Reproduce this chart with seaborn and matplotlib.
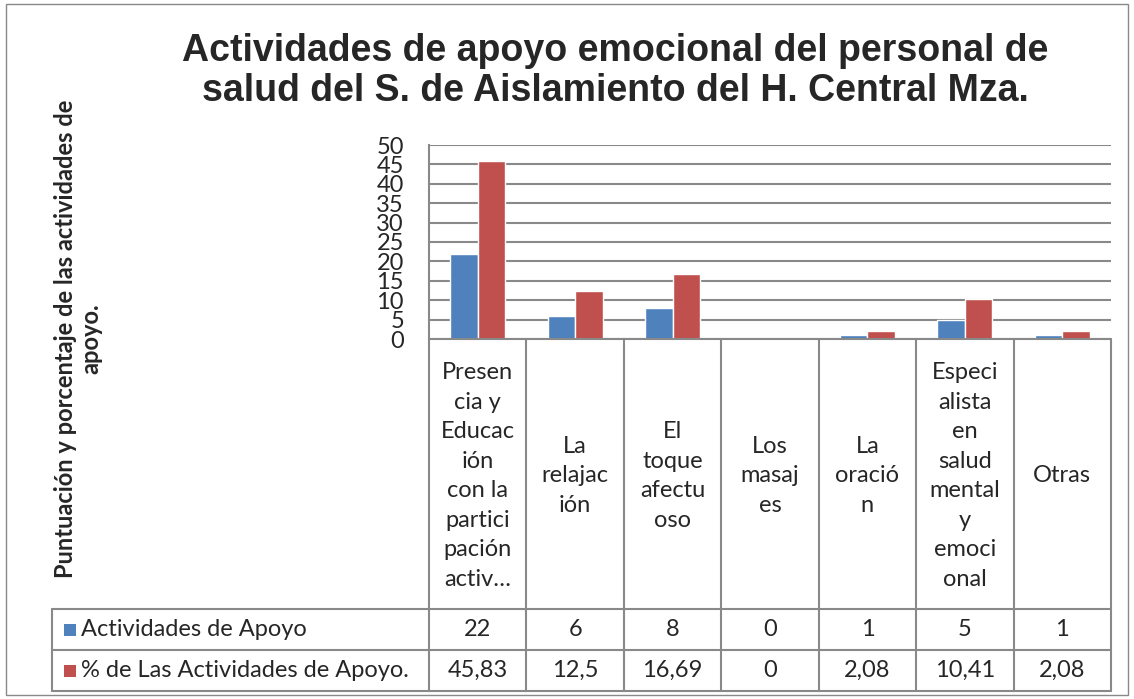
import numpy as np
import pandas as pd
import seaborn as sns
import matplotlib.pyplot as plt
from matplotlib.lines import Line2D
from matplotlib.patches import Rectangle
from matplotlib.transforms import blended_transform_factory

# datos
categorias = ["Presen\ncia y\nEducac\nión\ncon la\npartici\npación\nactiv…",
              "La\nrelajac\nión",
              "El\ntoque\nafectu\noso",
              "Los\nmasaj\nes",
              "La\noració\nn",
              "Especi\nalista\nen\nsalud\nmental\ny\nemoci\nonal",
              "Otras"]
actividades = [22, 6, 8, 0, 1, 5, 1]
porcentaje = [45.83, 12.5, 16.69, 0, 2.08, 10.41, 2.08]
series = ["Actividades de Apoyo", "% de Las Actividades de Apoyo."]
y_ticks = [0, 5, 10, 15, 20, 25, 30, 35, 40, 45, 50]

azul = "#4F81BD"
rojo = "#C0504D"
gris = "#898989"

df = pd.DataFrame({
    "cat": categorias * 2,
    "serie": [series[0]] * len(categorias) + [series[1]] * len(categorias),
    "valor": actividades + porcentaje,
})

sns.set_style("white")
plt.rcParams['font.family'] = ['Lato', 'DejaVu Sans']

W, H = 1134, 699
fig = plt.figure(figsize=(W / 100, H / 100), dpi=100)

def fx(px):
    return px / W

def fy(py):
    return 1 - py / H

x_left, x_right = 429, 1111
y_top, y_zero = 145, 339
ax = fig.add_axes([fx(x_left), fy(y_zero), fx(x_right - x_left), (y_zero - y_top) / H])

sns.barplot(data=df, x="cat", y="valor", hue="serie", order=categorias,
            palette=[azul, rojo], width=0.566, gap=0, saturation=1,
            legend=False, ax=ax)

n = len(categorias)
ax.set_xlim(-0.5, n - 0.5)
ax.set_ylim(0, 50)
ax.set_yticks(y_ticks)
ax.set_yticklabels([str(t) for t in y_ticks], fontsize=17)
ax.tick_params(axis="y", length=0, pad=18)
ax.set_xticks([])
ax.set_xlabel("")
ax.set_ylabel("")
ax.yaxis.grid(True, color=gris, linewidth=1.5)
ax.set_axisbelow(True)
for s in ["top", "right", "bottom"]:
    ax.spines[s].set_visible(False)
ax.spines["left"].set_color(gris)
ax.spines["left"].set_linewidth(1.5)

# tabla de datos debajo del grafico
trans = blended_transform_factory(ax.transData, fig.transFigure)
r0, r1, r2, r3 = 339, 609, 650, 691
tab_left = 52

def hline(x0, x1, py, t):
    fig.add_artist(Line2D([x0, x1], [fy(py), fy(py)], transform=t, color=gris, lw=1.5))

hline(-0.5, n - 0.5, r0, trans)
for py in [r1, r2, r3]:
    fig.add_artist(Line2D([fx(tab_left), fx(x_left)], [fy(py), fy(py)],
                          transform=fig.transFigure, color=gris, lw=1.5))
    hline(-0.5, n - 0.5, py, trans)
for i in range(n + 1):
    fig.add_artist(Line2D([i - 0.5, i - 0.5], [fy(r0), fy(r3)], transform=trans,
                          color=gris, lw=1.5))
fig.add_artist(Line2D([fx(tab_left), fx(tab_left)], [fy(r1), fy(r3)],
                      transform=fig.transFigure, color=gris, lw=1.5))

def fmt(v):
    return f"{v:g}".replace(".", ",")

for i, cat in enumerate(categorias):
    fig.text(0, 0, cat, transform=trans, ha="center", va="center",
             fontsize=17, linespacing=1.5).set_position((i, fy((r0 + r1) / 2 + 2)))
    fig.text(0, 0, fmt(actividades[i]), transform=trans, ha="center", va="center",
             fontsize=17).set_position((i, fy((r1 + r2) / 2)))
    fig.text(0, 0, fmt(porcentaje[i]), transform=trans, ha="center", va="center",
             fontsize=17).set_position((i, fy((r2 + r3) / 2)))

for k, (nombre, col) in enumerate(zip(series, [azul, rojo])):
    yc = [(r1 + r2) / 2, (r2 + r3) / 2][k]
    fig.add_artist(Rectangle((fx(64), fy(yc + 6)), fx(12), 12 / H,
                             transform=fig.transFigure, color=col, lw=0))
    fig.text(fx(81), fy(yc), nombre, ha="left", va="center", fontsize=17)

# titulo y etiqueta del eje
fig.text(fx(615), fy(71), "Actividades de apoyo emocional del personal de\n"
         "salud del S. de Aislamiento del H. Central Mza.",
         ha="center", va="center", fontsize=27, fontweight="bold",
         family="Liberation Sans", linespacing=1.17)
fig.text(fx(78), fy(339), "Puntuación y porcentaje de las actividades de\napoyo.",
         ha="center", va="center", rotation=90, fontsize=17, fontweight="bold",
         multialignment="center", linespacing=1.15)

fig.add_artist(Rectangle((fx(6), fy(695)), fx(1122), 691 / H, transform=fig.transFigure,
                         fill=False, edgecolor=gris, lw=1))

fig.savefig("out.png", dpi=100)
